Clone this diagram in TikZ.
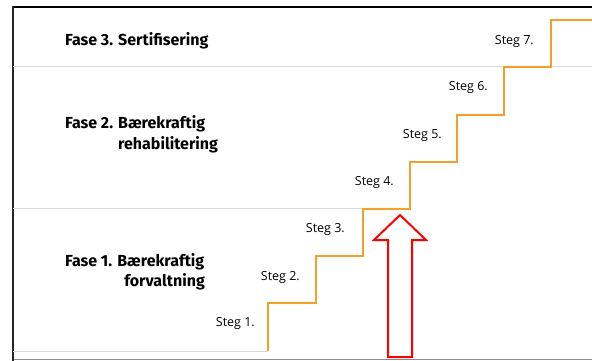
\documentclass[tikz,border=0pt]{standalone}
\usepackage{fontspec}
\newfontfamily\fasefont{Fira Sans}
\newfontfamily\stegfont{Open Sans}
\definecolor{stairorange}{HTML}{F5A02A}
\definecolor{sepgray}{HTML}{D9D9D9}
\definecolor{basegray}{HTML}{8C8C8C}
\begin{document}
\begin{tikzpicture}[x=1pt,y=-1pt,
  fase/.style={font=\fasefont\bfseries\fontsize{16}{18}\selectfont, inner sep=0pt},
  steglabel/.style={font=\stegfont\fontsize{12.5}{14}\selectfont, inner sep=0pt, anchor=east},
  separator/.style={sepgray, line width=1pt},
  stair/.style={stairorange, line width=2pt, line join=miter},
  uparrow/.style={red, line width=2pt, fill=white, line join=miter}]
\useasboundingbox (0,0) rectangle (592,361);
% frame
\draw[basegray, line width=1.5pt] (13,359.5) -- (592,359.5);
\draw[black, line width=2.2pt] (13,7) -- (592,7);
\draw[black!85, line width=1.5pt] (13,6) -- (13,361);
% separators
\draw[separator] (13,66.5) -- (592,66.5);
\draw[separator] (13,208.5) -- (363,208.5);
\draw[separator] (13,351) -- (268,351);
% stair corners
\coordinate (s0) at (268,351);
\coordinate (s1) at (268,303);
\coordinate (s2) at (316,303);
\coordinate (s3) at (316,256);
\coordinate (s4) at (363,256);
\coordinate (s5) at (363,209);
\coordinate (s6) at (410,209);
\coordinate (s7) at (410,162);
\coordinate (s8) at (457,162);
\coordinate (s9) at (457,115);
\coordinate (s10) at (504,115);
\coordinate (s11) at (504,67);
\coordinate (s12) at (551,67);
\coordinate (s13) at (551,20);
\coordinate (s14) at (592,20);
\draw[stair] (s0) -- (s1) -- (s2) -- (s3) -- (s4) -- (s5) -- (s6) -- (s7) -- (s8) -- (s9) -- (s10) -- (s11) -- (s12) -- (s13) -- (s14);
% step labels
\node[steglabel] (st1) at (255,323) {Steg 1.};
\node[steglabel] (st2) at (300,277) {Steg 2.};
\node[steglabel] (st3) at (345,229) {Steg 3.};
\node[steglabel] (st4) at (394,182) {Steg 4.};
\node[steglabel] (st5) at (442,135) {Steg 5.};
\node[steglabel] (st6) at (488,87) {Steg 6.};
\node[steglabel] (st7) at (534,41) {Steg 7.};
% phase labels
\node[fase, anchor=west] (f3) at (65,41) {Fase 3. Sertifisering};
\node[fase, anchor=west] (f2a) at (65,124) {Fase 2. Bærekraftig};
\node[fase, anchor=west] (f2b) at (118,145) {rehabilitering};
\node[fase, anchor=west] (f1a) at (65,262) {Fase 1. Bærekraftig};
\node[fase, anchor=east] (f1b) at (205,282) {forvaltning};
% red arrow
\draw[uparrow] (400,215) -- (426,240) -- (412,240) -- (412,357) -- (388,357) -- (388,240) -- (374,240) -- cycle;
\end{tikzpicture}
\end{document}
